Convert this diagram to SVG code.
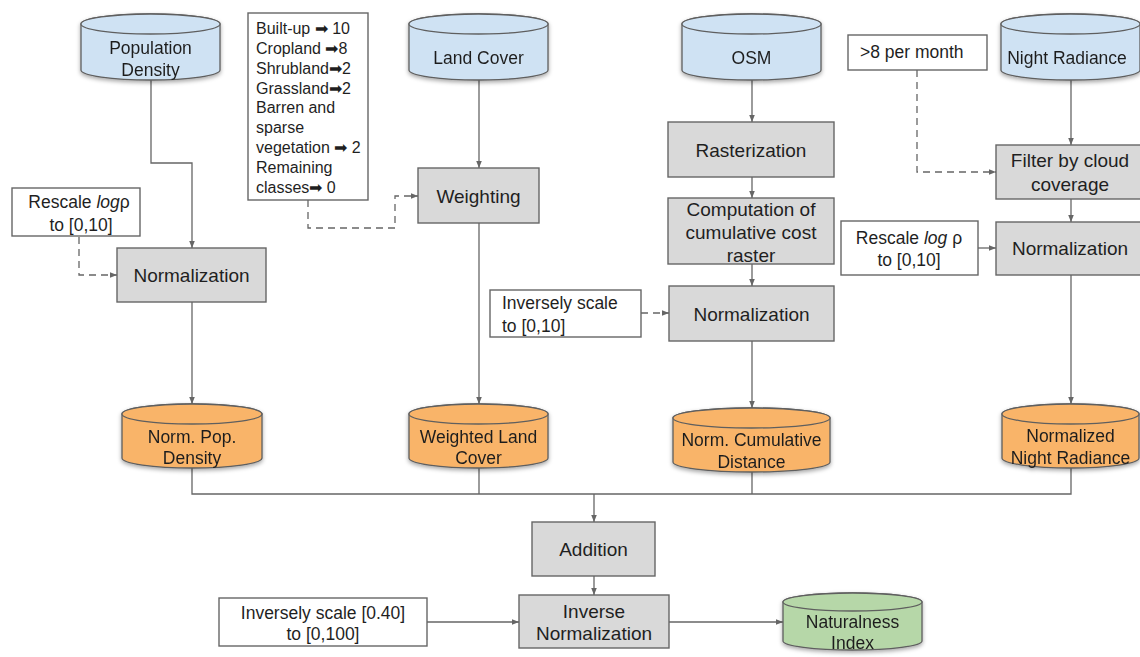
<svg xmlns="http://www.w3.org/2000/svg" width="1140" height="657" viewBox="0 0 1140 657">
<style>
text{font-family:"Liberation Sans",Arial,sans-serif;fill:#1f1f1f;text-anchor:middle}
.cyl{stroke:#5f5f5f;stroke-width:1.3}
.blue{fill:#cfe2f3}
.orange{fill:#f9b469}
.green{fill:#b6d7a8}
.proc{fill:#d9d9d9;stroke:#666;stroke-width:1.4}
.note{fill:#fff;stroke:#666;stroke-width:1.4}
.ct{font-size:17.5px}
.pt{font-size:19px}
.nt{font-size:17.5px}
.lg{font-size:16px;text-anchor:start}
.ln{fill:none;stroke:#666;stroke-width:1.3}
.dash{stroke-dasharray:7,5}
</style>
<defs>
<marker id="ah" viewBox="0 0 10 10" refX="10" refY="5" markerWidth="7" markerHeight="7" markerUnits="userSpaceOnUse" orient="auto">
<path d="M0,1 L10,5 L0,9 Z" fill="#666"/>
</marker>
<filter id="sh" x="-10%" y="-10%" width="120%" height="140%">
<feDropShadow dx="0" dy="2" stdDeviation="2" flood-color="#000" flood-opacity="0.35"/>
</filter>
</defs>

<g id="connectors">
<polyline class="ln" points="151,80 151,163 192,163 192,248" marker-end="url(#ah)"/>
<polyline class="ln dash" points="79,237 79,275 117,275" marker-end="url(#ah)"/>
<polyline class="ln dash" points="308,200 308,228 395,228 395,196 418,196" marker-end="url(#ah)"/>
<line class="ln" x1="479" y1="80" x2="479" y2="168" marker-end="url(#ah)"/>
<line class="ln" x1="752" y1="80" x2="752" y2="122" marker-end="url(#ah)"/>
<line class="ln" x1="752" y1="177" x2="752" y2="198" marker-end="url(#ah)"/>
<line class="ln" x1="752" y1="264" x2="752" y2="286" marker-end="url(#ah)"/>
<line class="ln dash" x1="641" y1="313" x2="669" y2="313" marker-end="url(#ah)"/>
<polyline class="ln dash" points="917,70 917,172 996,172" marker-end="url(#ah)"/>
<line class="ln" x1="1071" y1="80" x2="1071" y2="145" marker-end="url(#ah)"/>
<line class="ln" x1="1071" y1="199" x2="1071" y2="222" marker-end="url(#ah)"/>
<line class="ln" x1="978" y1="248" x2="996" y2="248" marker-end="url(#ah)"/>
<line class="ln" x1="192" y1="302" x2="192" y2="404" marker-end="url(#ah)"/>
<line class="ln" x1="479" y1="223" x2="479" y2="404" marker-end="url(#ah)"/>
<line class="ln" x1="752" y1="341" x2="752" y2="408" marker-end="url(#ah)"/>
<line class="ln" x1="1071" y1="275" x2="1071" y2="404" marker-end="url(#ah)"/>
<polyline class="ln" points="192,468 192,494 1071,494 1071,468"/>
<line class="ln" x1="479" y1="468" x2="479" y2="494"/>
<line class="ln" x1="752" y1="472" x2="752" y2="494"/>
<line class="ln" x1="594" y1="494" x2="594" y2="522" marker-end="url(#ah)"/>
<line class="ln" x1="594" y1="576" x2="594" y2="595" marker-end="url(#ah)"/>
<line class="ln" x1="427" y1="622" x2="519" y2="622" marker-end="url(#ah)"/>
<line class="ln" x1="669" y1="622" x2="783" y2="622" marker-end="url(#ah)"/>
</g>

<g id="population-density" filter="url(#sh)">
<path class="cyl blue" d="M81,24 A69.5,10 0 0 1 220,24 L220,70 A69.5,10 0 0 1 81,70 Z"/>
<ellipse class="cyl blue" cx="150.5" cy="24" rx="69.5" ry="10"/>
<text class="ct" x="150.5" y="54">Population</text>
<text class="ct" x="150.5" y="76">Density</text>
</g>

<g id="land-cover" filter="url(#sh)">
<path class="cyl blue" d="M409,24 A69.5,10 0 0 1 548,24 L548,70 A69.5,10 0 0 1 409,70 Z"/>
<ellipse class="cyl blue" cx="478.5" cy="24" rx="69.5" ry="10"/>
<text class="ct" x="478.5" y="64">Land Cover</text>
</g>

<g id="osm" filter="url(#sh)">
<path class="cyl blue" d="M682,24 A69.5,10 0 0 1 821,24 L821,70 A69.5,10 0 0 1 682,70 Z"/>
<ellipse class="cyl blue" cx="751.5" cy="24" rx="69.5" ry="10"/>
<text class="ct" x="751.5" y="64">OSM</text>
</g>

<g id="night-radiance" filter="url(#sh)">
<path class="cyl blue" d="M1001,24 A69.5,10 0 0 1 1140,24 L1140,70 A69.5,10 0 0 1 1001,70 Z"/>
<ellipse class="cyl blue" cx="1070.5" cy="24" rx="69.5" ry="10"/>
<text class="ct" x="1067" y="64">Night Radiance</text>
</g>

<g id="legend">
<rect class="note" x="248" y="13" width="120" height="187"/>
<text class="lg" x="256" y="34">Built-up ➡ 10</text>
<text class="lg" x="256" y="54">Cropland ➡8</text>
<text class="lg" x="256" y="74">Shrubland➡2</text>
<text class="lg" x="256" y="94">Grassland➡2</text>
<text class="lg" x="256" y="113">Barren and</text>
<text class="lg" x="256" y="133">sparse</text>
<text class="lg" x="256" y="153">vegetation ➡ 2</text>
<text class="lg" x="256" y="173">Remaining</text>
<text class="lg" x="256" y="193">classes➡ 0</text>
</g>

<g id="rescale-pop">
<rect class="note" x="12" y="188" width="128" height="48"/>
<text class="nt" x="79" y="208">Rescale <tspan font-style="italic">log</tspan>ρ</text>
<text class="nt" x="81" y="231">to [0,10]</text>
</g>

<g id="normalization-pop">
<rect class="proc" x="117" y="248" width="149" height="54"/>
<text class="pt" x="191.5" y="282">Normalization</text>
</g>

<g id="weighting">
<rect class="proc" x="418" y="168" width="121" height="55"/>
<text class="pt" x="478.5" y="203">Weighting</text>
</g>

<g id="rasterization">
<rect class="proc" x="668" y="122" width="166" height="55"/>
<text class="pt" x="751" y="157">Rasterization</text>
</g>

<g id="computation">
<rect class="proc" x="668" y="198" width="166" height="66"/>
<text class="pt" x="751" y="216">Computation of</text>
<text class="pt" x="751" y="239">cumulative cost</text>
<text class="pt" x="751" y="262">raster</text>
</g>

<g id="inversely-osm">
<rect class="note" x="490" y="290" width="151" height="47"/>
<text class="nt" x="502" y="309" style="text-anchor:start">Inversely scale</text>
<text class="nt" x="502" y="332" style="text-anchor:start">to [0,10]</text>
</g>

<g id="normalization-osm">
<rect class="proc" x="669" y="286" width="165" height="55"/>
<text class="pt" x="751.5" y="321">Normalization</text>
</g>

<g id="per-month">
<rect class="note" x="848" y="35" width="139" height="35"/>
<text class="nt" x="860" y="58" style="text-anchor:start">&gt;8 per month</text>
</g>

<g id="filter-cloud">
<rect class="proc" x="996" y="145" width="150" height="54"/>
<text class="pt" x="1070" y="167">Filter by cloud</text>
<text class="pt" x="1070" y="191">coverage</text>
</g>

<g id="rescale-night">
<rect class="note" x="841" y="221" width="137" height="54"/>
<text class="nt" x="909" y="244">Rescale <tspan font-style="italic">log</tspan> ρ</text>
<text class="nt" x="909" y="266">to [0,10]</text>
</g>

<g id="normalization-night">
<rect class="proc" x="996" y="222" width="150" height="53"/>
<text class="pt" x="1070" y="255">Normalization</text>
</g>

<g id="norm-pop-density" filter="url(#sh)">
<path class="cyl orange" d="M122,414 A70,10 0 0 1 262,414 L262,458 A70,10 0 0 1 122,458 Z"/>
<ellipse class="cyl orange" cx="192" cy="414" rx="70" ry="10"/>
<text class="ct" x="192" y="443">Norm. Pop.</text>
<text class="ct" x="192" y="464">Density</text>
</g>

<g id="weighted-land-cover" filter="url(#sh)">
<path class="cyl orange" d="M409,414 A69.5,10 0 0 1 548,414 L548,458 A69.5,10 0 0 1 409,458 Z"/>
<ellipse class="cyl orange" cx="478.5" cy="414" rx="69.5" ry="10"/>
<text class="ct" x="478.5" y="443">Weighted Land</text>
<text class="ct" x="478.5" y="464">Cover</text>
</g>

<g id="norm-cumulative-distance" filter="url(#sh)">
<path class="cyl orange" d="M673,418 A78.5,10 0 0 1 830,418 L830,462 A78.5,10 0 0 1 673,462 Z"/>
<ellipse class="cyl orange" cx="751.5" cy="418" rx="78.5" ry="10"/>
<text class="ct" x="751.5" y="446">Norm. Cumulative</text>
<text class="ct" x="751.5" y="468">Distance</text>
</g>

<g id="normalized-night-radiance" filter="url(#sh)">
<path class="cyl orange" d="M1002,414 A68.5,10 0 0 1 1139,414 L1139,458 A68.5,10 0 0 1 1002,458 Z"/>
<ellipse class="cyl orange" cx="1070.5" cy="414" rx="68.5" ry="10"/>
<text class="ct" x="1070.5" y="442">Normalized</text>
<text class="ct" x="1070.5" y="464">Night Radiance</text>
</g>

<g id="addition">
<rect class="proc" x="532" y="522" width="123" height="54"/>
<text class="pt" x="593.5" y="556">Addition</text>
</g>

<g id="inversely-scale-final">
<rect class="note" x="219" y="598" width="208" height="48"/>
<text class="nt" x="323" y="619">Inversely scale [0.40]</text>
<text class="nt" x="323" y="640">to [0,100]</text>
</g>

<g id="inverse-normalization">
<rect class="proc" x="519" y="595" width="150" height="53"/>
<text class="pt" x="594" y="618">Inverse</text>
<text class="pt" x="594" y="640">Normalization</text>
</g>

<g id="naturalness-index" filter="url(#sh)">
<path class="cyl green" d="M783,602 A69.5,9 0 0 1 922,602 L922,641 A69.5,9 0 0 1 783,641 Z"/>
<ellipse class="cyl green" cx="852.5" cy="602" rx="69.5" ry="9"/>
<text class="ct" x="852.5" y="628">Naturalness</text>
<text class="ct" x="852.5" y="649">Index</text>
</g>
</svg>
